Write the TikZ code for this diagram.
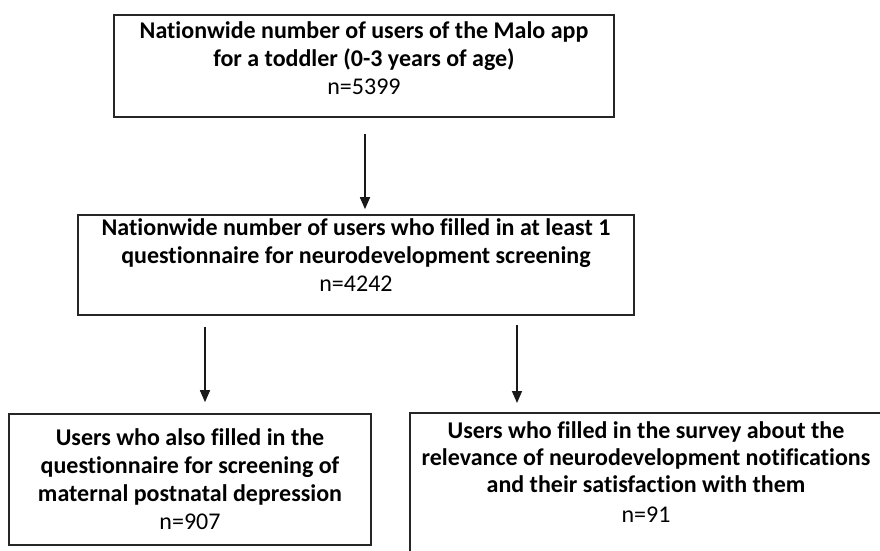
\documentclass[tikz,border=0pt]{standalone}
\usepackage{fontspec}
\setmainfont{Carlito}[Ligatures=NoCommon]
\usetikzlibrary{arrows.meta}
\tikzset{
  flowbox/.style={draw=black!85, line width=1.6pt, align=center, inner sep=0pt,
    font=\fontsize{24pt}{28pt}\selectfont},
  flowtext/.style={align=center, inner sep=0pt, font=\fontsize{24pt}{27pt}\selectfont},
  flowarrow/.style={line width=1.6pt, draw=black!90, -{Triangle[length=12pt,width=10pt]}}
}
\begin{document}
\begin{tikzpicture}[x=1pt,y=-1pt]
\useasboundingbox (0,0) rectangle (880,551);
\clip (0,0) rectangle (880,551);
\node[flowbox, minimum width=500pt, minimum height=102pt, text depth=15pt] (box1) at (364,66)
  {\textbf{Nationwide number of users of the Malo app}\\
   \textbf{for a toddler (0-3 years of age)}\\ n=5399};
\node[flowbox, minimum width=556pt, minimum height=100pt, text depth=19pt] (box2) at (356,265)
  {\textbf{Nationwide number of users who filled in at least 1}\\
   \textbf{questionnaire for neurodevelopment screening}\\ n=4242};
\node[flowbox, minimum width=362pt, minimum height=131pt] (box3) at (190,479.5)
  {\textbf{Users who also filled in the}\\
   \textbf{questionnaire for screening of}\\
   \textbf{maternal postnatal depression}\\ n=907};
\coordinate (b4nw) at (410,413);
\coordinate (b4se) at (892,575);
\draw[draw=black!85, line width=1.6pt] (b4nw) rectangle (b4se);
\node[flowtext] (box4) at (646,472)
  {\textbf{Users who filled in the survey about the}\\
   \textbf{relevance of neurodevelopment notifications}\\
   \textbf{and their satisfaction with them}\\[3pt] n=91};
\coordinate (cL) at (205,0);
\coordinate (cR) at (517,0);
\coordinate (c1) at (365,0);
\draw[flowarrow, shorten <=16pt, shorten >=5pt] (box1.south -| c1) -- (box2.north -| c1);
\draw[flowarrow, shorten <=11pt, shorten >=11pt] (box2.south -| cL) -- (box3.north -| cL);
\draw[flowarrow, shorten <=9pt, shorten >=10pt] (box2.south -| cR) -- (b4nw -| cR);
\end{tikzpicture}
\end{document}
